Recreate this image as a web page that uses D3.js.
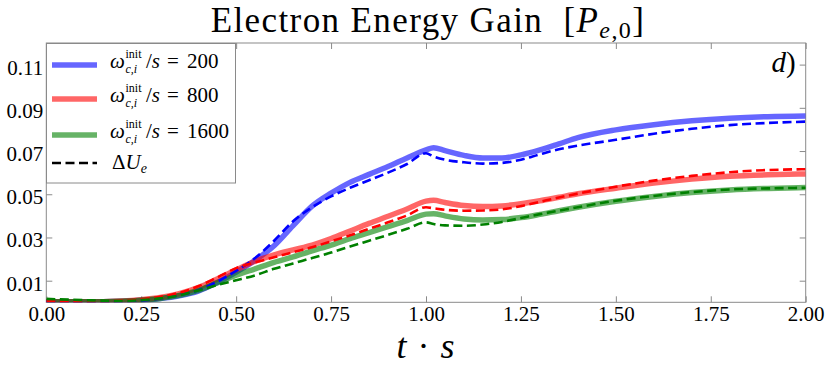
<!DOCTYPE html>
<html>
<head>
<meta charset="utf-8">
<script src="https://cdn.jsdelivr.net/npm/d3@7"></script>
<style>
  body { margin: 0; background: #fff; }
  svg { display: block; font-family: "Liberation Serif", "DejaVu Serif", serif; }
</style>
</head>
<body>
<svg id="chart" width="830" height="370"></svg>
<script>
// time samples (t * s)
const tVals = [0, 0.1, 0.2, 0.25, 0.3, 0.35, 0.4, 0.45, 0.5, 0.55, 0.6, 0.65, 0.7, 0.75, 0.8, 0.85, 0.9, 0.95,
  1.0, 1.02, 1.05, 1.1, 1.15, 1.2, 1.25, 1.3, 1.35, 1.4, 1.5, 1.6, 1.7, 1.8, 1.9, 2.0];

// solid: energy gain, dashed: delta U_e
const gain200 = [0.0003, 0.0002, 0.0005, 0.0009, 0.0017, 0.003, 0.0052, 0.0092, 0.014, 0.0195, 0.0262, 0.0355, 0.0445, 0.0505, 0.0555, 0.0592, 0.0628, 0.0668,
  0.0705, 0.0715, 0.0702, 0.068, 0.0668, 0.0668, 0.0682, 0.0705, 0.0733, 0.0762, 0.0798, 0.0822, 0.084, 0.0852, 0.0859, 0.0862];
const dU200 = [0.0005, 0.0003, 0.0005, 0.0009, 0.0018, 0.0033, 0.0056, 0.0095, 0.0145, 0.0205, 0.0285, 0.0375, 0.044, 0.049, 0.053, 0.0565, 0.06, 0.064,
  0.069, 0.0675, 0.066, 0.0648, 0.0642, 0.0645, 0.066, 0.0685, 0.0708, 0.0725, 0.0752, 0.078, 0.0803, 0.082, 0.083, 0.0836];
const gain800 = [0.0003, 0.0002, 0.0006, 0.0012, 0.0022, 0.004, 0.0068, 0.0108, 0.015, 0.019, 0.022, 0.0243, 0.0265, 0.0295, 0.033, 0.0365, 0.0398, 0.0432,
  0.0468, 0.0472, 0.0462, 0.0448, 0.0443, 0.0446, 0.0456, 0.047, 0.0486, 0.0502, 0.0528, 0.0552, 0.057, 0.0583, 0.059, 0.0594];
const dU800 = [0.0006, 0.0003, 0.0008, 0.0014, 0.0025, 0.0044, 0.0074, 0.0115, 0.0158, 0.0185, 0.0208, 0.0232, 0.0255, 0.0282, 0.031, 0.034, 0.037, 0.0402,
  0.044, 0.0435, 0.0428, 0.0424, 0.0425, 0.043, 0.0445, 0.0465, 0.0485, 0.0503, 0.0535, 0.0563, 0.0585, 0.0602, 0.0612, 0.0616];
const gain1600 = [0.0003, 0.0002, 0.0005, 0.001, 0.0018, 0.0032, 0.0055, 0.009, 0.0125, 0.0155, 0.0185, 0.021, 0.0238, 0.0265, 0.0295, 0.0322, 0.035, 0.0378,
  0.0408, 0.041, 0.04, 0.0386, 0.0381, 0.0383, 0.0392, 0.0407, 0.0424, 0.044, 0.0468, 0.049, 0.0508, 0.052, 0.0527, 0.0531];
const dU1600 = [0.0016, 0.001, 0.0006, 0.001, 0.0018, 0.0032, 0.0055, 0.008, 0.0102, 0.0125, 0.0155, 0.018, 0.0205, 0.023, 0.0258, 0.0285, 0.0312, 0.034,
  0.037, 0.0362, 0.0356, 0.0354, 0.036, 0.0372, 0.039, 0.0408, 0.0424, 0.044, 0.047, 0.0492, 0.051, 0.0522, 0.0527, 0.053];

const xTicks = [0, 0.25, 0.5, 0.75, 1.0, 1.25, 1.5, 1.75, 2.0];
const yTicks = [0.01, 0.03, 0.05, 0.07, 0.09, 0.11];
const legendValues = ["200", "800", "1600"];

const svg = d3.select("#chart");
const margin = { top: 43, right: 24.3, bottom: 67.7, left: 46.3 };
const W = 830, H = 370;

const x = d3.scaleLinear().domain([0, 2]).range([margin.left, W - margin.right]);
const y = d3.scaleLinear().domain([0, 0.12]).range([H - margin.bottom, margin.top]);

const frameColor = "#8a8a8a";
const fmt = d3.format(".2f");

// clip to axes
svg.append("clipPath").attr("id", "clip")
  .append("rect")
  .attr("x", x(0)).attr("y", y(0.12))
  .attr("width", x(2) - x(0)).attr("height", y(0) - y(0.12));

// axes (ticks point inward)
function styleAxis(g) {
  g.select(".domain").remove();
  g.selectAll(".tick line").attr("stroke", frameColor).attr("stroke-width", 1);
  g.selectAll(".tick text").attr("fill", "#000").style("font-size", "21px")
    .style("font-family", "'Liberation Serif', serif");
}

svg.append("g")
  .attr("transform", `translate(0,${y(0)})`)
  .call(d3.axisBottom(x).tickValues(xTicks).tickFormat(fmt).tickSizeInner(-6).tickSizeOuter(0).tickPadding(4))
  .call(styleAxis);

svg.append("g")
  .attr("transform", `translate(0,${y(0.12)})`)
  .call(d3.axisTop(x).tickValues(xTicks).tickFormat("").tickSizeInner(-6).tickSizeOuter(0))
  .call(styleAxis);

svg.append("g")
  .attr("transform", `translate(${x(0)},0)`)
  .call(d3.axisLeft(y).tickValues(yTicks).tickFormat(fmt).tickSizeInner(-6).tickSizeOuter(0).tickPadding(3))
  .call(styleAxis)
  .selectAll(".tick text").attr("dy", "0.45em");

svg.append("g")
  .attr("transform", `translate(${x(2)},0)`)
  .call(d3.axisRight(y).tickValues(yTicks).tickFormat("").tickSizeInner(-6).tickSizeOuter(0))
  .call(styleAxis);

// frame
svg.append("rect")
  .attr("x", x(0)).attr("y", y(0.12))
  .attr("width", x(2) - x(0)).attr("height", y(0) - y(0.12))
  .attr("fill", "none").attr("stroke", frameColor).attr("stroke-width", 1);

// lines
const series = [
  { vals: gain200, color: "#0000ff", dashed: false },
  { vals: gain800, color: "#ff0000", dashed: false },
  { vals: gain1600, color: "#008000", dashed: false },
  { vals: dU200, color: "#0000ff", dashed: true },
  { vals: dU800, color: "#ff0000", dashed: true },
  { vals: dU1600, color: "#008000", dashed: true }
];

const line = d3.line()
  .x(d => x(d[0]))
  .y(d => y(d[1]))
  .curve(d3.curveMonotoneX);

const plot = svg.append("g").attr("clip-path", "url(#clip)");
series.forEach(s => {
  plot.append("path")
    .datum(tVals.map((t, i) => [t, s.vals[i]]))
    .attr("fill", "none")
    .attr("stroke", s.color)
    .attr("stroke-opacity", s.dashed ? 1 : 0.6)
    .attr("stroke-width", s.dashed ? 2.6 : 5.5)
    .attr("stroke-dasharray", s.dashed ? "9,4.5" : null)
    .attr("stroke-linejoin", "round")
    .attr("d", line);
});

// title
const title = svg.append("text")
  .attr("x", (x(0) + x(2)) / 2 + 2)
  .attr("y", 32)
  .attr("text-anchor", "middle")
  .style("font-size", "35px")
  .style("letter-spacing", "1.4px");
title.append("tspan").text("Electron Energy Gain\u00a0\u00a0[");
title.append("tspan").style("font-style", "italic").text("P");
title.append("tspan").attr("dy", 6).style("font-size", "24px").style("font-style", "italic").text("e");
title.append("tspan").style("font-size", "24px").text(",0");
title.append("tspan").attr("dy", -6).text("]");

// panel label
const lab = svg.append("text")
  .attr("x", x(2) - 10).attr("y", 72)
  .attr("text-anchor", "end")
  .style("font-size", "29px");
lab.append("tspan").style("font-style", "italic").text("d");
lab.append("tspan").text(")");

// x label
const xl = svg.append("text")
  .attr("x", (x(0) + x(2)) / 2)
  .attr("y", 358)
  .attr("text-anchor", "middle")
  .style("font-size", "36px")
  .style("letter-spacing", "1px");
xl.append("tspan").style("font-style", "italic").text("t");
xl.append("tspan").text(" \u00b7 ");
xl.append("tspan").style("font-style", "italic").text("s");

// legend
const legend = svg.append("g");
legend.append("rect")
  .attr("x", 46.5).attr("y", 43.5)
  .attr("width", 189).attr("height", 139.5)
  .attr("fill", "#fff").attr("stroke", frameColor).attr("stroke-width", 1);

const legendRows = [65, 99, 135, 163];
const legendColors = ["#0000ff", "#ff0000", "#008000"];

legendValues.forEach((v, i) => {
  const yy = legendRows[i];
  legend.append("line")
    .attr("x1", 52).attr("x2", 97).attr("y1", yy).attr("y2", yy)
    .attr("stroke", legendColors[i]).attr("stroke-opacity", 0.6).attr("stroke-width", 5.5);
  const base = yy + 3;
  legend.append("text").attr("x", 110).attr("y", base).style("font-size", "21px").style("font-style", "italic").text("\u03c9");
  legend.append("text").attr("x", 125.5).attr("y", base - 10).style("font-size", "12px").text("init");
  legend.append("text").attr("x", 125.5).attr("y", base + 5).style("font-size", "12px").style("font-style", "italic").text("c,i");
  const t = legend.append("text").attr("y", base).style("font-size", "21px");
  t.append("tspan").attr("x", 146).text("/");
  t.append("tspan").style("font-style", "italic").text("s");
  t.append("tspan").attr("x", 167).text("=");
  t.append("tspan").attr("x", 187).text(v);
});

const dRow = legendRows[3];
legend.append("line")
  .attr("x1", 52).attr("x2", 97).attr("y1", dRow).attr("y2", dRow)
  .attr("stroke", "#000").attr("stroke-width", 2.6).attr("stroke-dasharray", "9,4.5");
const du = legend.append("text").attr("x", 112).attr("y", dRow + 6).style("font-size", "21px");
du.append("tspan").text("\u0394");
du.append("tspan").style("font-style", "italic").text("U");
du.append("tspan").attr("dy", 4).style("font-size", "14px").style("font-style", "italic").text("e");
</script>
</body>
</html>
